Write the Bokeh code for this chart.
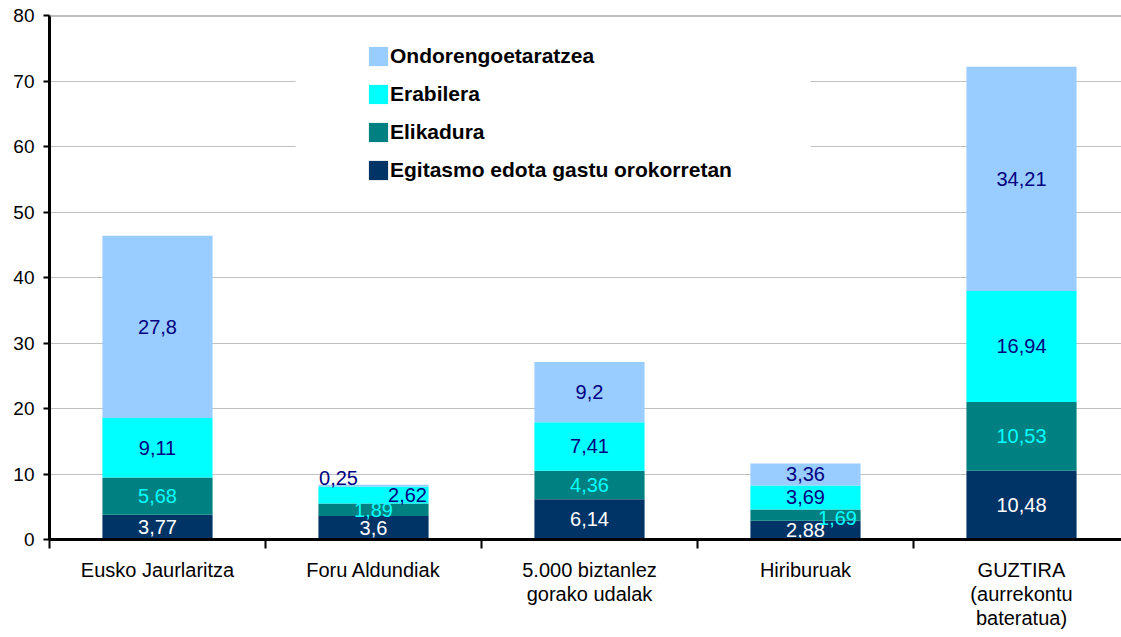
import numpy as np
from bokeh.plotting import figure
from bokeh.models import (ColumnDataSource, FixedTicker, Legend, LegendItem, Span,
                          BoxAnnotation, Range1d)
from bokeh.core.properties import value
from bokeh.embed import file_html
from bokeh.resources import INLINE

# ---------------- data ----------------
categories = ["Eusko Jaurlaritza", "Foru Aldundiak", "5.000 biztanlez\ngorako udalak",
              "Hiriburuak", "GUZTIRA\n(aurrekontu\nbateratua)"]
series_names = ["Egitasmo edota gastu orokorretan", "Elikadura", "Erabilera",
                "Ondorengoetaratzea"]
egitasmo = [3.77, 3.6, 6.14, 2.88, 10.48]
elikadura = [5.68, 1.89, 4.36, 1.69, 10.53]
erabilera = [9.11, 2.62, 7.41, 3.69, 16.94]
ondorengo = [27.8, 0.25, 9.2, 3.36, 34.21]
y_ticks = [0, 10, 20, 30, 40, 50, 60, 70, 80]

# ---------------- styles ----------------
bar_colors = ["#003366", "#008080", "#00FFFF", "#99CCFF"]
label_colors = ["#FFFFFF", "#00FFFF", "#000080", "#000080"]
FONT = "Liberation Sans"
# pixel nudges for labels moved aside in the original (category idx, series idx) -> (dx, dy)
label_nudges = {(1, 3): (-35, -8), (1, 2): (34, 0), (3, 1): (32, 3)}

series_values = [egitasmo, elikadura, erabilera, ondorengo]
keys = ["s0", "s1", "s2", "s3"]
x = np.arange(len(categories), dtype=float)

src = ColumnDataSource(dict(x=x, **{k: v for k, v in zip(keys, series_values)}))

W, H = 1121, 637
LEFT, TOP, BOTTOM = 49, 15, 98
p = figure(width=W, height=H, output_backend="svg", toolbar_location=None,
           x_range=Range1d(-0.5, -0.5 + (W - LEFT) / 216),
           y_range=Range1d(y_ticks[0], y_ticks[-1]),
           min_border_left=LEFT, min_border_right=0, min_border_top=TOP,
           min_border_bottom=BOTTOM)
p.outline_line_color = None
p.background_fill_color = "white"
p.border_fill_color = "white"

p.xgrid.visible = False
p.ygrid.grid_line_color = "#C0C0C0"
p.ygrid.grid_line_width = 1

renderers = p.vbar_stack(keys, x="x", width=0.51, color=bar_colors, line_color=None,
                         source=src)

p.add_layout(Span(location=y_ticks[-1], dimension="width", line_color="#808080",
                  line_width=2))

# y axis
p.yaxis.ticker = FixedTicker(ticks=y_ticks)
p.yaxis.axis_line_width = 3
p.yaxis.axis_line_color = "black"
p.yaxis.major_tick_line_width = 2
p.yaxis.major_tick_out = 6
p.yaxis.major_tick_in = 0
p.yaxis.minor_tick_line_color = None
p.yaxis.major_label_text_font = FONT
p.yaxis.major_label_text_font_size = "19px"
p.yaxis.major_label_text_color = "black"
p.yaxis.major_label_standoff = 9

# x axis
p.xaxis.ticker = FixedTicker(ticks=list(x),
                             minor_ticks=list(np.arange(len(categories) + 1) - 0.5))
p.xaxis.major_label_overrides = {float(i): c for i, c in enumerate(categories)}
p.xaxis.axis_line_width = 3
p.xaxis.axis_line_color = "black"
p.xaxis.major_tick_line_color = None
p.xaxis.major_tick_out = 0
p.xaxis.major_tick_in = 0
p.xaxis.minor_tick_line_color = "black"
p.xaxis.minor_tick_line_width = 2
p.xaxis.minor_tick_out = 9
p.xaxis.minor_tick_in = 0
p.xaxis.major_label_text_font = FONT
p.xaxis.major_label_text_font_size = "20px"
p.xaxis.major_label_text_line_height = 1.1
p.xaxis.major_label_text_color = "black"
p.xaxis.major_label_standoff = 10

# data labels
lx, ly, lt, lc, lxo, lyo = [], [], [], [], [], []
cum = np.zeros(len(categories))
for si, vals in enumerate(series_values):
    vals = np.array(vals)
    mids = cum + vals / 2
    for ci in range(len(categories)):
        dx, dy = label_nudges.get((ci, si), (0, 0))
        lx.append(x[ci]); ly.append(mids[ci])
        lt.append(("%g" % vals[ci]).replace(".", ","))
        lc.append(label_colors[si]); lxo.append(dx); lyo.append(dy)
    cum = cum + vals
lsrc = ColumnDataSource(dict(x=lx, y=ly, text=lt, color=lc, xo=lxo, yo=lyo))
p.text(x="x", y="y", text="text", text_color="color", x_offset="xo", y_offset="yo",
       source=lsrc, text_align="center", text_baseline="middle",
       text_font=value(FONT), text_font_size="20px")

# legend background box + legend
p.add_layout(BoxAnnotation(left=295, right=810, top=30, bottom=195,
                           left_units="canvas", right_units="canvas",
                           top_units="canvas", bottom_units="canvas",
                           fill_color="white", fill_alpha=1, line_color=None))
items = [LegendItem(label=series_names[i], renderers=[renderers[i]]) for i in range(3, -1, -1)]
legend = Legend(items=items, location=(317, 357), padding=0, spacing=14,
                glyph_width=24, glyph_height=24, label_height=24, label_standoff=0,
                label_text_font=FONT, label_text_font_size="21px",
                label_text_font_style="bold", label_text_color="black",
                border_line_color=None, background_fill_color="white",
                background_fill_alpha=1, margin=0)
p.add_layout(legend)

open("out.html", "w").write(file_html(p, INLINE))
